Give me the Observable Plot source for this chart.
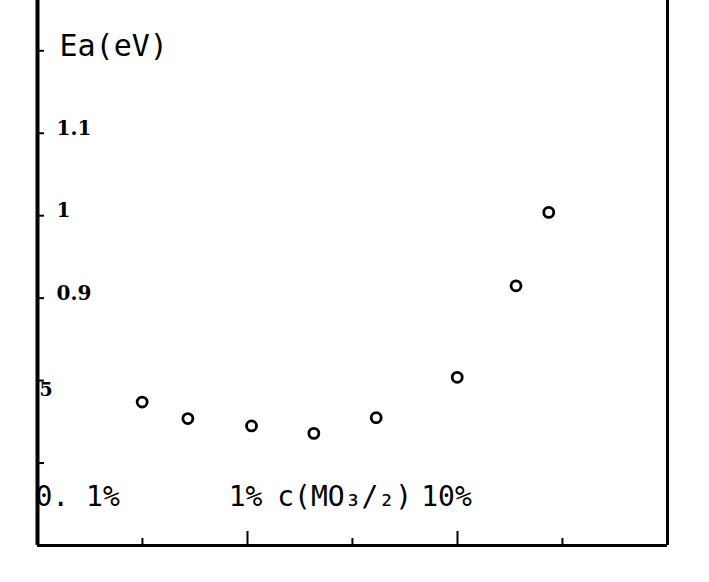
<!DOCTYPE html>
<html>
<head>
<meta charset="utf-8">
<script src="https://cdn.jsdelivr.net/npm/d3@7"></script>
<script src="https://cdn.jsdelivr.net/npm/@observablehq/plot@0.6"></script>
<style>
  html, body { margin: 0; padding: 0; background: #fff; }
  #chart svg { display: block; }
</style>
</head>
<body>
<div id="chart"></div>
<script>
// concentration c(MO3/2) in %, activation energy Ea in eV
const concentration = [0.315, 0.52, 1.045, 2.07, 4.1, 9.97, 19.0, 27.2];
const energy = [0.774, 0.754, 0.745, 0.736, 0.755, 0.804, 0.915, 1.004];

const yTicks = [1.2, 1.1, 1.0, 0.9, 0.8, 0.7];
const yTickLabels = [
  {v: 1.1, label: "1.1"},
  {v: 1.0, label: "1"},
  {v: 0.9, label: "0.9"}
];
const yPartialLabel = [{v: 0.8, label: "5"}];
const xMajor = [1, 10];
const xMinor = [0.316, 3.16, 31.6];
const xLabelLow = [{v: 0.1, label: "0. 1%"}];
const xLabelMid = [{v: 1, label: "1%"}];
const xLabelHigh = [{v: 10, label: "10%"}];
const xTitle = "c(MO₃/₂)";
const yTitle = "Ea(eV)";

const data = concentration.map((c, i) => ({c, e: energy[i]}));

const font = "'DejaVu Sans Mono', monospace";
const serif = "'DejaVu Serif', serif";
const pxPerDecade = 210, pxPerEv = 825;
const labelY = 0.659;

const chart = Plot.plot({
  width: 709,
  height: 582,
  marginLeft: 37,
  marginRight: 42,
  marginTop: 0,
  marginBottom: 37,
  x: {type: "log", domain: [0.1, 100], axis: null},
  y: {domain: [0.6, 1.261], axis: null},
  style: {background: "#fff", color: "#000"},
  marks: [
    // frame (left, right, bottom)
    Plot.ruleX([0.1], {stroke: "#000", strokeWidth: 4}),
    Plot.ruleX([100], {stroke: "#000", strokeWidth: 3}),
    Plot.ruleY([0.6], {stroke: "#000", strokeWidth: 3}),
    // y ticks (inward)
    Plot.ruleY(yTicks, {y: d => d, x1: 0.1, x2: 0.1 * Math.pow(10, 7 / pxPerDecade), stroke: "#000", strokeWidth: 2}),
    Plot.text(yTickLabels, {x: 0.1, y: "v", text: "label", dx: 19, dy: -5, textAnchor: "start",
      fontFamily: serif, fontWeight: "bold", fontSize: 20, fill: "#000"}),
    Plot.text(yPartialLabel, {x: 0.1, y: "v", text: "label", dx: 2, dy: 9, textAnchor: "start",
      fontFamily: serif, fontWeight: "bold", fontSize: 19, fill: "#000"}),
    Plot.text([yTitle], {x: 0.1, y: 1.2, dx: 22, dy: -4, textAnchor: "start",
      fontFamily: font, fontSize: 30, fill: "#000"}),
    // x ticks (inward)
    Plot.ruleX(xMajor, {x: d => d, y1: 0.6, y2: 0.6 + 14 / pxPerEv, stroke: "#000", strokeWidth: 2}),
    Plot.ruleX(xMinor, {x: d => d, y1: 0.6, y2: 0.6 + 7 / pxPerEv, stroke: "#000", strokeWidth: 2}),
    Plot.text(xLabelLow, {x: "v", y: labelY, text: "label", textAnchor: "start", dx: -2,
      fontFamily: font, fontSize: 28, fill: "#000"}),
    Plot.text(xLabelMid, {x: "v", y: labelY, text: "label", textAnchor: "middle", dx: -2,
      fontFamily: font, fontSize: 28, fill: "#000"}),
    Plot.text(xLabelHigh, {x: "v", y: labelY, text: "label", textAnchor: "middle", dx: -11,
      fontFamily: font, fontSize: 28, fill: "#000"}),
    Plot.text([xTitle], {x: 2.9, y: labelY, textAnchor: "middle",
      fontFamily: font, fontSize: 28, fill: "#000"}),
    // data points
    Plot.dot(data, {x: "c", y: "e", r: 5, stroke: "#000", strokeWidth: 2.8, fill: "#fff"})
  ]
});
document.getElementById("chart").append(chart);
</script>
</body>
</html>
